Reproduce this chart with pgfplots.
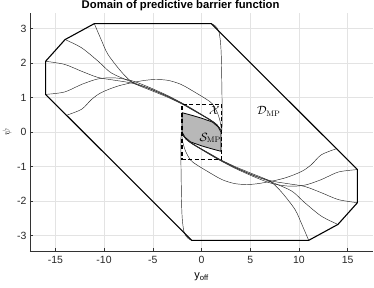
\documentclass[border=0pt]{standalone}
\usepackage[no-math]{fontspec}
\setmainfont{Liberation Sans}
\usepackage{pgfplots}
\pgfplotsset{compat=1.18}
\begin{document}
\begin{tikzpicture}
\begin{axis}[
 scale only axis, width=343bp, height=238bp,
 xmin=-17.6, xmax=17.6, ymin=-3.45, ymax=3.45,
 axis x line*=bottom, axis y line*=left,
 xtick={-15,-10,...,15}, ytick={-3,-2,...,3},
 grid=major, major grid style={black!11, line width=0.4pt},
 tick align=inside, major tick length=3bp,
 tick style={black!80, line width=0.4pt},
 axis line style={black!80, line width=0.5pt},
 /pgf/number format/assume math mode=true,
 ticklabel style={font=\fontsize{10.5}{11}\selectfont, text=black!85},
 xticklabel style={yshift=-2bp},
 xlabel={y\textsubscript{off}},
 xlabel style={font=\fontsize{11}{12}\selectfont, at={(axis description cs:0.5,-0.109)}, anchor=center},
 ylabel={$\psi$},
 ylabel style={font=\fontsize{10}{11}\selectfont, at={(axis description cs:-0.067,0.5)}, anchor=center},
 clip=false,
]
% S_MP shaded
\addplot[fill=black!28, draw=black, line width=0.8pt] coordinates {
 (-2,0.56) (-1.2,0.5) (-0.58,0.45) (0,0.4) (1.12,0.29) (1.7,0.15) (2,0.0)
 (2,-0.56) (1.2,-0.5) (0.58,-0.45) (0,-0.4) (-1.12,-0.29) (-1.7,-0.15) (-2,0.0) (-2,0.56)};
% thin trajectories upper-left
\addplot[black!85, line width=0.45pt, smooth] coordinates {
 (-11,3.1416) (-10.3,2.68) (-9.6,2.25) (-8.27,1.76) (-7.24,1.47) (-6.3,1.33) (-5.4,1.23) (-3.5,1.01) (-2,0.81) (-1,0.65) (0,0.49) (1,0.32) (1.6,0.2) (2.0,0.05)};
\addplot[black!85, line width=0.45pt, smooth] coordinates {
 (-14,2.68) (-12.3,2.44) (-10.6,2.05) (-9.3,1.72) (-7.6,1.5) (-6.5,1.38) (-5.4,1.27) (-3.5,1.04) (-2,0.83) (-1,0.67) (0,0.5) (1,0.33) (1.6,0.2) (2.0,0.05)};
\addplot[black!85, line width=0.45pt, smooth] coordinates {
 (-16,2.05) (-14.05,1.96) (-12.3,1.76) (-10.6,1.58) (-8.9,1.5) (-7.2,1.42) (-5.4,1.26) (-3.5,1.03) (-2,0.82) (-1,0.66) (0,0.5) (1,0.33) (1.6,0.2) (2.0,0.05)};
\addplot[black!85, line width=0.45pt, smooth] coordinates {
 (-16,1.09) (-14.05,1.16) (-12.3,1.38) (-10.6,1.54) (-8.95,1.57) (-7.2,1.49) (-5.4,1.3) (-3.5,1.06) (-2,0.84) (-1,0.68) (0,0.51) (1,0.34) (1.6,0.21) (2.0,0.05)};
\addplot[black!85, line width=0.45pt, smooth] coordinates {
 (-13.9,0.48) (-12.3,0.66) (-11.3,0.94) (-10.3,1.14) (-8.6,1.33) (-6.6,1.46) (-5,1.52) (-3.5,1.5) (-2.1,1.38) (-0.6,1.14) (0.5,0.95) (1.1,0.82) (1.6,0.58) (1.9,0.32) (2.05,0.05)};
\addplot[black!85, line width=0.45pt, smooth] coordinates {
 (1,3.1416) (1.4,3.08) (1.77,2.92) (1.95,2.6) (2.03,2.2) (2.08,1.47) (2.12,0.6) (2.1,0.05)};
% thin trajectories lower-right (mirror)
\addplot[black!85, line width=0.45pt, smooth] coordinates {
 (11,-3.1416) (10.3,-2.68) (9.6,-2.25) (8.27,-1.76) (7.24,-1.47) (6.3,-1.33) (5.4,-1.23) (3.5,-1.01) (2,-0.81) (1,-0.65) (0,-0.49) (-1,-0.32) (-1.6,-0.2) (-2.0,-0.05)};
\addplot[black!85, line width=0.45pt, smooth] coordinates {
 (14,-2.68) (12.3,-2.44) (10.6,-2.05) (9.3,-1.72) (7.6,-1.5) (6.5,-1.38) (5.4,-1.27) (3.5,-1.04) (2,-0.83) (1,-0.67) (0,-0.5) (-1,-0.33) (-1.6,-0.2) (-2.0,-0.05)};
\addplot[black!85, line width=0.45pt, smooth] coordinates {
 (16,-2.05) (14.05,-1.96) (12.3,-1.76) (10.6,-1.58) (8.9,-1.5) (7.2,-1.42) (5.4,-1.26) (3.5,-1.03) (2,-0.82) (1,-0.66) (0,-0.5) (-1,-0.33) (-1.6,-0.2) (-2.0,-0.05)};
\addplot[black!85, line width=0.45pt, smooth] coordinates {
 (16,-1.09) (14.05,-1.16) (12.3,-1.38) (10.6,-1.54) (8.95,-1.57) (7.2,-1.49) (5.4,-1.3) (3.5,-1.06) (2,-0.84) (1,-0.68) (0,-0.51) (-1,-0.34) (-1.6,-0.21) (-2.0,-0.05)};
\addplot[black!85, line width=0.45pt, smooth] coordinates {
 (13.9,-0.48) (12.3,-0.66) (11.3,-0.94) (10.3,-1.14) (8.6,-1.33) (6.6,-1.46) (5,-1.52) (3.5,-1.5) (2.1,-1.38) (0.6,-1.14) (-0.5,-0.95) (-1.1,-0.82) (-1.6,-0.58) (-1.9,-0.32) (-2.05,-0.05)};
\addplot[black!85, line width=0.45pt, smooth] coordinates {
 (-1,-3.1416) (-1.4,-3.08) (-1.77,-2.92) (-1.95,-2.6) (-2.03,-2.2) (-2.08,-1.47) (-2.12,-0.6) (-2.1,-0.05)};
% D_MP outline
\addplot[black, line width=1.1pt] coordinates {
 (-11,3.1416) (1,3.1416) (16,-1.09) (16,-2.05) (14,-2.68) (11,-3.1416) (-1,-3.1416) (-16,1.09) (-16,2.05) (-14,2.68) (-11,3.1416)};
% X box
\addplot[black, line width=1.3pt, dash pattern=on 4pt off 2.5pt] coordinates {
 (-2,-0.8) (2.05,-0.8) (2.05,0.8) (-2,0.8) (-2,-0.8)};
\node[font=\fontsize{11.5}{12}\selectfont] at (axis cs:1.3,0.62) {$\mathcal{X}$};
\node[font=\fontsize{11.5}{12}\selectfont] at (axis cs:6.9,0.6) {$\mathcal{D}_{\mathrm{MP}}$};
\node[font=\fontsize{11.5}{12}\selectfont] at (axis cs:0.9,-0.17) {$\mathcal{S}_{\mathrm{MP}}$};
\node[anchor=base, inner sep=0pt, font=\bfseries\fontsize{11.3}{12}\selectfont] at (axis description cs:0.439,1.0168) {Domain of predictive barrier function};
\end{axis}
\pgfresetboundingbox
\path[use as bounding box] ([shift={(-30bp,-37bp)}]current axis.south west) rectangle ([shift={(1bp,13bp)}]current axis.north east);
\end{tikzpicture}
\end{document}
